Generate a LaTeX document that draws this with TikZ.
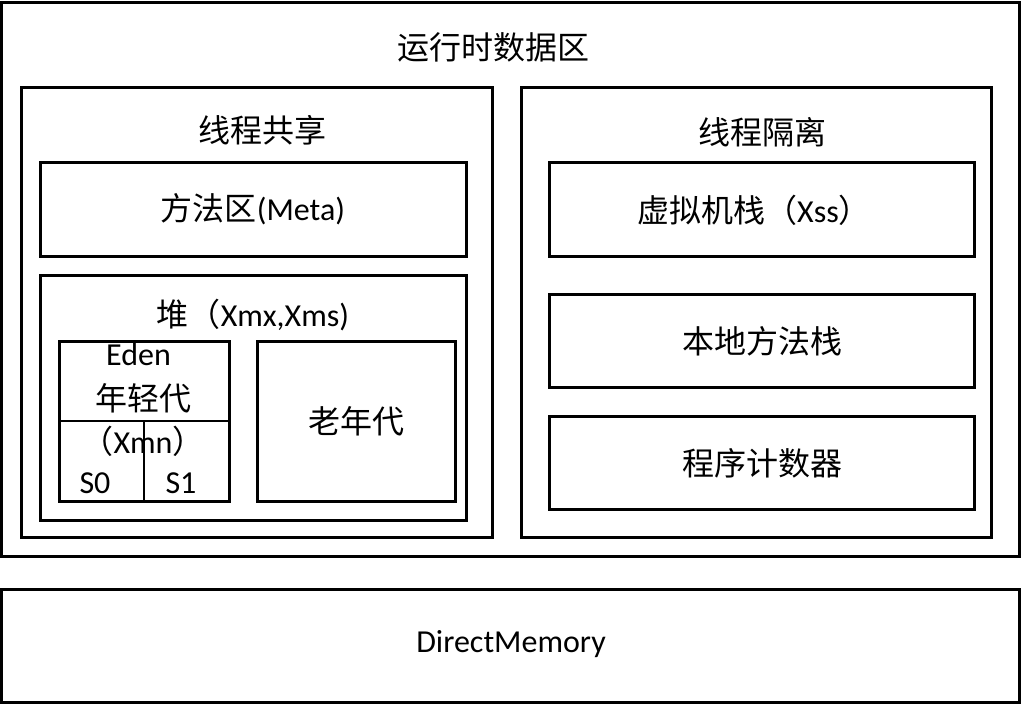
\documentclass[tikz,border=0pt]{standalone}
\usepackage{fontspec}
\setmainfont{Carlito}
\newfontfamily\cjk{Noto Sans CJK SC}

\begin{document}
\begin{tikzpicture}[x=0.75pt, y=-0.75pt,
        box/.style={draw, line width=2.25pt},
        split/.style={draw, line width=1.5pt},
        lbl/.style={inner sep=0pt, font=\fontsize{24}{28}\selectfont}]
        \useasboundingbox (0,0) rectangle (1023,704);

        % 运行时数据区
        \draw[box] (1.5,2) rectangle (1019.5,556.5);
        \node[lbl] (rtda) at (493,47) {\cjk 运行时数据区};

        % 线程共享
        \draw[box] (21.5,87.5) rectangle (492.5,537.5);
        \node[lbl] (shared) at (262,130) {\cjk 线程共享};
        \draw[box] (40.5,162.5) rectangle (466.5,256.5);
        \node[lbl] (meta) at (253,209) {{\cjk 方法区}(Meta)};

        % 堆
        \draw[box] (40.5,275.5) rectangle (466.5,520.5);
        \node[lbl] (heap) at (253,315) {{\cjk 堆（}Xmx,Xms)};

        % 年轻代
        \draw[box] (59.5,341.5) rectangle (229.5,501.5);
        \coordinate (ysplitL) at (59.5,421);
        \coordinate (ysplitR) at (229.5,421);
        \coordinate (ysplitB) at (143.7,501.5);
        \draw[split] (ysplitL) -- (ysplitR);
        \draw[split] (143.7,421) -- (ysplitB);
        \node[lbl] (eden) at (138.5,354) {Eden};
        \node[lbl] (young) at (143.5,398) {\cjk 年轻代};
        \node[lbl] (xmn) at (143,441) {{\cjk （}Xmn{\cjk ）}};
        \node[lbl] (szero) at (95,483) {S0};
        \node[lbl] (sone) at (181,483) {S1};

        % 老年代
        \draw[box] (257.5,341.5) rectangle (455.5,501.5);
        \node[lbl] (old) at (356,421) {\cjk 老年代};

        % 线程隔离
        \draw[box] (521.5,87.5) rectangle (991.5,537.5);
        \node[lbl] (isolated) at (762,132) {\cjk 线程隔离};
        \draw[box] (549.5,162.5) rectangle (974.5,256.5);
        \node[lbl] (vmstack) at (754,210) {{\cjk 虚拟机栈（}Xss{\cjk ）}};
        \draw[box] (549.5,294.5) rectangle (974.5,387.5);
        \node[lbl] (native) at (762,341) {\cjk 本地方法栈};
        \draw[box] (549.5,416.5) rectangle (974.5,509.5);
        \node[lbl] (pc) at (762,463) {\cjk 程序计数器};

        % 直接内存
        \draw[box] (1.5,589.5) rectangle (1019.5,702.5);
        \node[lbl] (direct) at (511,644) {DirectMemory};
    \end{tikzpicture}
\end{document}
